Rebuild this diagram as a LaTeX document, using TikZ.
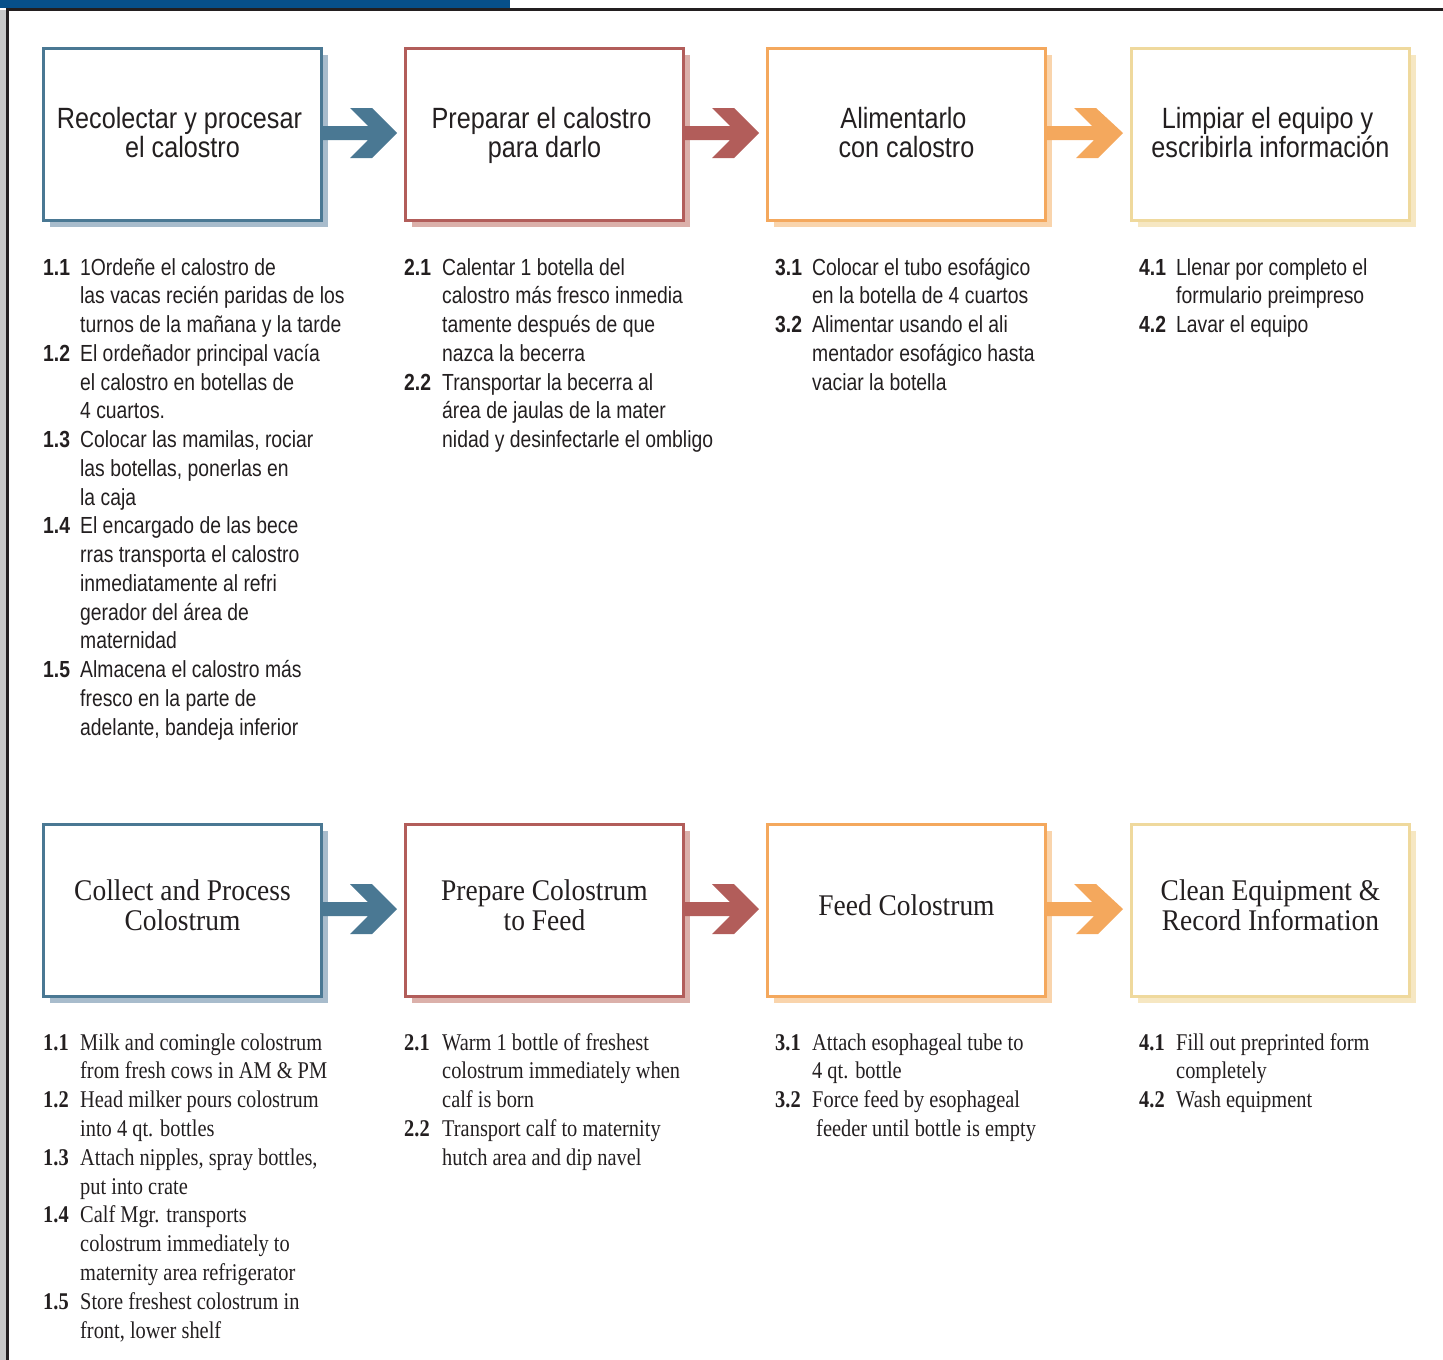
\documentclass[tikz,border=0pt]{standalone}
\usepackage{fontspec}
\newfontfamily\TitleSans[FakeStretch=0.86]{Liberation Sans}
\newfontfamily\ListSans[FakeStretch=0.83,BoldFont={Liberation Sans Bold},BoldFeatures={FakeStretch=0.83}]{Liberation Sans}
\newfontfamily\TitleSerif[FakeStretch=0.915]{Liberation Serif}
\newfontfamily\ListSerif[FakeStretch=0.85,BoldFont={Liberation Serif Bold},BoldFeatures={FakeStretch=0.85}]{Liberation Serif}
\usetikzlibrary{calc,shadows}
\definecolor{txt}{HTML}{231F20}
\definecolor{barblue}{HTML}{07508A}
\definecolor{sideg}{HTML}{C8C8C8}
\definecolor{framek}{HTML}{231F20}
\definecolor{cblue}{HTML}{4A7893}
\definecolor{sblue}{HTML}{A8BCCC}
\definecolor{cred}{HTML}{B25D5A}
\definecolor{sred}{HTML}{DBB0AA}
\definecolor{corange}{HTML}{F4A85D}
\definecolor{sorange}{HTML}{F9D4AC}
\definecolor{cyellow}{HTML}{EFD99D}
\definecolor{syellow}{HTML}{F6E7C2}
\tikzset{
  stepbox/.style 2 args={draw=#1, fill=white, line width=3pt, minimum width=278pt,
    minimum height=172pt, inner sep=0pt, outer sep=1.5pt,
    general shadow={shadow xshift=6pt, shadow yshift=-6pt, fill=#2}},
  ttlS/.style={font=\TitleSans\fontsize{29.3}{29}\selectfont, text=txt, align=center, inner sep=0pt, anchor=base},
  ttlE/.style={font=\TitleSerif\fontsize{30}{30}\selectfont, text=txt, align=center, inner sep=0pt, anchor=base},
  spnum/.style={font=\ListSans\fontsize{23.3}{28.75}\selectfont\bfseries, text=txt, inner sep=0pt, anchor=base west},
  sptext/.style={font=\ListSans\fontsize{23.3}{28.75}\selectfont, text=txt, align=left, inner sep=0pt, anchor=base west},
  ennum/.style={font=\ListSerif\fontsize{24}{28.8}\selectfont\bfseries, text=txt, inner sep=0pt, anchor=base west},
  entext/.style={font=\ListSerif\fontsize{24}{28.8}\selectfont, text=txt, align=left, inner sep=0pt, anchor=base west},
}
\newcommand\flowarrow[3]{%
  \fill[#1] ($(#2.east)+(0,-8.5)$) -- ++(45,0) -- ++(-18,-18) -- ++(22,0)
    -- ($(#3.west)+(-7,-1.5)$) -- ++(-25,25) -- ++(-22,0) -- ++(18,-18)
    -- ($(#2.east)+(0,5.5)$) -- cycle;}
% name, number x, text x, first baseline, line count, number, text
\newcommand\spitem[7]{%
  \node[spnum] (#1n) at (#2,#4) {#6};
  \node[sptext] (#1) at (#3,{#4+(#5-1)*28.75}) {#7};}
\newcommand\enitem[7]{%
  \node[ennum] (#1n) at (#2,#4) {#6};
  \node[entext] (#1) at (#3,{#4+(#5-1)*28.8}) {#7};}
\begin{document}
\begin{tikzpicture}[x=1pt,y=-1pt]
\useasboundingbox (0,0) rectangle (1443,1360);
% frame
\fill[sideg] (0,10) rectangle (5.5,1360);
\fill[barblue] (0,0) rectangle (510,7.5);
\fill[framek] (5.5,7.5) rectangle (1443,10.5);
\fill[framek] (5.5,7.5) rectangle (9,1360);
% top row boxes
\node[stepbox={cblue}{sblue}] (b1) at (182.5,134.5) {};
\node[stepbox={cred}{sred}] (b2) at (544.5,134.5) {};
\node[stepbox={corange}{sorange}] (b3) at (906.5,134.5) {};
\node[stepbox={cyellow}{syellow}] (b4) at (1270.5,134.5) {};
\flowarrow{cblue}{b1}{b2}
\flowarrow{cred}{b2}{b3}
\flowarrow{corange}{b3}{b4}
\node[ttlS] (t1) at (182.5,157) {Recolectar y procesar\hspace*{6pt}\\el calostro};
\node[ttlS] (t2) at (544.5,157) {Preparar el calostro\hspace*{6pt}\\para darlo};
\node[ttlS] (t3) at (906.5,157) {Alimentarlo\hspace*{6pt}\\con calostro};
\node[ttlS] (t4) at (1270.5,157) {Limpiar el equipo y\hspace*{6pt}\\escribirla información};
% bottom row boxes
\node[stepbox={cblue}{sblue}] (e1) at (182.5,910.5) {};
\node[stepbox={cred}{sred}] (e2) at (544.5,910.5) {};
\node[stepbox={corange}{sorange}] (e3) at (906.5,910.5) {};
\node[stepbox={cyellow}{syellow}] (e4) at (1270.5,910.5) {};
\flowarrow{cblue}{e1}{e2}
\flowarrow{cred}{e2}{e3}
\flowarrow{corange}{e3}{e4}
\node[ttlE] (f1) at (182.5,930.7) {Collect and Process\\Colostrum};
\node[ttlE] (f2) at (544.5,930.7) {Prepare Colostrum\\to Feed};
\node[ttlE] (f3) at (906.5,915) {Feed Colostrum};
\node[ttlE] (f4) at (1270.5,930.7) {Clean Equipment \&\\Record Information};
% Spanish lists
\spitem{s11}{43}{80}{275}{3}{1.1}{1Ordeñe el calostro de\\las vacas recién paridas de los\\turnos de la mañana y la tarde}
\spitem{s12}{43}{80}{361.25}{3}{1.2}{El ordeñador principal vacía\\el calostro en botellas de\\4 cuartos.}
\spitem{s13}{43}{80}{447.5}{3}{1.3}{Colocar las mamilas, rociar\\las botellas, ponerlas en\\la caja}
\spitem{s14}{43}{80}{533.75}{5}{1.4}{El encargado de las bece\\rras transporta el calostro\\inmediatamente al refri\\gerador del área de\\maternidad}
\spitem{s15}{43}{80}{677.5}{3}{1.5}{Almacena el calostro más\\fresco en la parte de\\adelante, bandeja inferior}
\spitem{s21}{404}{442}{275}{4}{2.1}{Calentar 1 botella del\\calostro más fresco inmedia\\tamente después de que\\nazca la becerra}
\spitem{s22}{404}{442}{390}{3}{2.2}{Transportar la becerra al\\área de jaulas de la mater\\nidad y desinfectarle el ombligo}
\spitem{s31}{775}{812}{275}{2}{3.1}{Colocar el tubo esofágico\\en la botella de 4 cuartos}
\spitem{s32}{775}{812}{332.5}{3}{3.2}{Alimentar usando el ali\\mentador esofágico hasta\\vaciar la botella}
\spitem{s41}{1139}{1176}{275}{2}{4.1}{Llenar por completo el\\formulario preimpreso}
\spitem{s42}{1139}{1176}{332.5}{1}{4.2}{Lavar el equipo}
% English lists
\enitem{n11}{43}{80}{1050}{2}{1.1}{Milk and comingle colostrum\\from fresh cows in AM \& PM}
\enitem{n12}{43}{80}{1107.6}{2}{1.2}{Head milker pours colostrum\\into 4 qt. bottles}
\enitem{n13}{43}{80}{1165.2}{2}{1.3}{Attach nipples, spray bottles,\\put into crate}
\enitem{n14}{43}{80}{1222.8}{3}{1.4}{Calf Mgr. transports\\colostrum immediately to\\maternity area refrigerator}
\enitem{n15}{43}{80}{1309.2}{2}{1.5}{Store freshest colostrum in\\front, lower shelf}
\enitem{n21}{404}{442}{1050}{3}{2.1}{Warm 1 bottle of freshest\\colostrum immediately when\\calf is born}
\enitem{n22}{404}{442}{1136.4}{2}{2.2}{Transport calf to maternity\\hutch area and dip navel}
\enitem{n31}{775}{812}{1050}{2}{3.1}{Attach esophageal tube to\\4 qt. bottle}
\enitem{n32}{775}{812}{1107.6}{2}{3.2}{Force feed by esophageal\\\hspace*{4pt}feeder until bottle is empty}
\enitem{n41}{1139}{1176}{1050}{2}{4.1}{Fill out preprinted form\\completely}
\enitem{n42}{1139}{1176}{1107.6}{1}{4.2}{Wash equipment}
\end{tikzpicture}
\end{document}
